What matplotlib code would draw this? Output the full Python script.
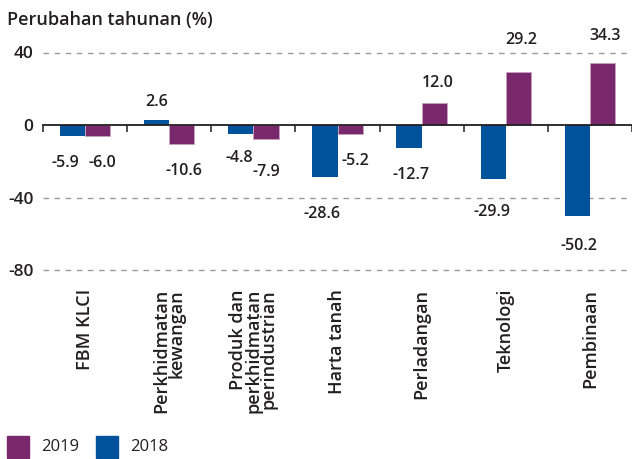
import matplotlib
matplotlib.use("Agg")
import matplotlib.pyplot as plt
import matplotlib.transforms as mtransforms
from matplotlib.patches import Rectangle

# data
categories = [
    "FBM KLCI",
    "Perkhidmatan\nkewangan",
    "Produk dan\nperkhidmatan\nperindustrian",
    "Harta tanah",
    "Perladangan",
    "Teknologi",
    "Pembinaan",
]
values_2018 = [-5.9, 2.6, -4.8, -28.6, -12.7, -29.9, -50.2]
values_2019 = [-6.0, -10.6, -7.9, -5.2, 12.0, 29.2, 34.3]
y_ticks = [40, 0, -40, -80]

# label nudges in pixels (dx, dy down) relative to bar end
offsets_2018 = [(-7, 27), (0, -18), (-1, 24), (-3, 37), (2, 27), (-1, 33), (2, 30)]
offsets_2019 = [(5, 27), (2, 27), (0, 33), (5, 27), (3, -20), (3, -32), (3, -27)]

blue = "#00529b"
purple = "#7a286c"
text_col = "#231f20"
font = ["Open Sans", "DejaVu Sans"]
plt.rcParams["font.family"] = font

W, H = 632, 459
fig = plt.figure(figsize=(W / 100, H / 100), dpi=100)
ax = fig.add_axes([43 / W, (H - 270) / H, (W - 43) / W, (270 - 52.5) / H])
ax.set_xlim(0, 7)
ax.set_ylim(-80, 40)

# dashed gridlines
for y in y_ticks:
    if y != 0:
        ax.axhline(y, color="#9a9a9a", lw=1.0, dashes=(4, 4), zorder=0, clip_on=False)

centers = [i + 0.5 for i in range(len(categories))]
bw = 0.3
ax.bar([c - bw / 2 for c in centers], values_2018, width=bw, color=blue, zorder=2)
ax.bar([c + bw / 2 for c in centers], values_2019, width=bw, color=purple,
       edgecolor="#c7a3bf", linewidth=0.6, zorder=2)

# value labels
def put_labels(xs, vals, offs):
    for x, v, (dx, dy) in zip(xs, vals, offs):
        ax.annotate(f"{v:.1f}", (x, v), xytext=(dx * 0.72, -dy * 0.72),
                    textcoords="offset points", ha="center", va="center",
                    fontsize=11.5, fontweight="semibold", color=text_col,
                    annotation_clip=False)

put_labels([c - bw / 2 for c in centers], values_2018, offsets_2018)
put_labels([c + bw / 2 for c in centers], values_2019, offsets_2019)

# axes styling
for s in ["left", "top", "right"]:
    ax.spines[s].set_visible(False)
ax.spines["bottom"].set_position(("data", 0))
ax.spines["bottom"].set_color(text_col)
ax.spines["bottom"].set_linewidth(1.3)
ax.spines["bottom"].set_zorder(3)
ax.set_xticks(range(8))
ax.set_xticklabels([])
ax.tick_params(axis="x", direction="out", length=5, width=1.1, color=text_col)
ax.set_yticks(y_ticks)
ax.set_yticklabels([str(t) for t in y_ticks], fontsize=12.5, fontweight="semibold", color=text_col)
ax.tick_params(axis="y", length=0, pad=7)

# category labels
trans = mtransforms.blended_transform_factory(ax.transData, fig.transFigure)
for c, lab in zip(centers, categories):
    ax.text(c, 1 - 289 / H, lab, rotation=90, ha="center", va="top", ma="right",
            fontsize=13, fontweight="semibold", color=text_col, linespacing=0.8,
            transform=trans)

# title
fig.text(7 / W, 1 - 20 / H, "Perubahan tahunan (%)", ha="left", va="center",
         fontsize=13, fontweight="semibold", color=text_col)

# legend
for x0, col, lab in [(7, purple, "2019"), (96, blue, "2018")]:
    fig.add_artist(Rectangle((x0 / W, 1 - 458 / H), 22 / W, 22 / H,
                             transform=fig.transFigure, color=col))
    fig.text((x0 + 34) / W, 1 - 447 / H, lab, ha="left", va="center",
             fontsize=12, color=text_col)

fig.savefig("out.png", dpi=100)
